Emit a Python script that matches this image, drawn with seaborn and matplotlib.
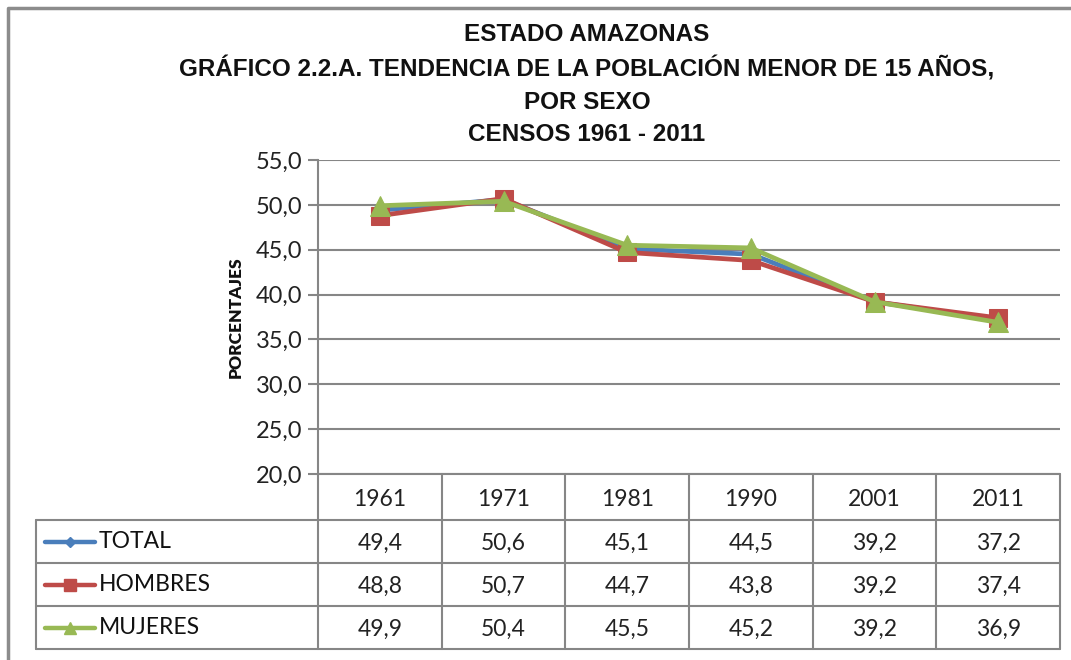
import numpy as np
import pandas as pd
import matplotlib
matplotlib.use("Agg")
import matplotlib.pyplot as plt
from matplotlib.ticker import FuncFormatter
import seaborn as sns

years = ["1961", "1971", "1981", "1990", "2001", "2011"]
series_names = ["TOTAL", "HOMBRES", "MUJERES"]
total = [49.4, 50.6, 45.1, 44.5, 39.2, 37.2]
hombres = [48.8, 50.7, 44.7, 43.8, 39.2, 37.4]
mujeres = [49.9, 50.4, 45.5, 45.2, 39.2, 36.9]

title_lines = "ESTADO AMAZONAS\nGRÁFICO 2.2.A. TENDENCIA DE LA POBLACIÓN MENOR DE 15 AÑOS,\nPOR SEXO\nCENSOS 1961 - 2011"

colors = {"TOTAL": "#4A7EBB", "HOMBRES": "#BE4B48", "MUJERES": "#98B954"}
markers = {"TOTAL": "D", "HOMBRES": "s", "MUJERES": "^"}
msizes = {"TOTAL": 9, "HOMBRES": 13.5, "MUJERES": 14.5}
grid_col = "#868686"

sns.set_theme(style="white")
plt.rcParams["font.family"] = ["Lato", "DejaVu Sans"]

df = pd.DataFrame({"year": years * 3,
                   "pos": list(range(len(years))) * 3,
                   "value": total + hombres + mujeres,
                   "serie": [s for s in series_names for _ in years]})

W, H = 1071, 660
fig = plt.figure(figsize=(W / 100, H / 100), dpi=100)

def px(x0, y0, x1, y1):
    return [x0 / W, 1 - y1 / H, (x1 - x0) / W, (y1 - y0) / H]

ax = fig.add_axes(px(318, 160, 1060, 474))
for name in series_names:
    sub = df[df["serie"] == name]
    sns.lineplot(data=sub, x="pos", y="value", ax=ax, color=colors[name],
                 marker=markers[name], markersize=msizes[name],
                 markeredgecolor=colors[name], linewidth=3.4, legend=False)

ax.set_xlim(-0.5, len(years) - 0.5)
ax.set_ylim(20, 55)
ax.set_yticks(np.arange(20, 56, 5))
ax.yaxis.set_major_formatter(FuncFormatter(lambda v, p: f"{v:.1f}".replace(".", ",")))
ax.set_xticks([])
ax.set_xlabel("")
ax.set_ylabel("PORCENTAJES", fontsize=12.5, fontweight="heavy", labelpad=9,
              color="#111111")
ax.grid(axis="y", color=grid_col, linewidth=1.5)
ax.set_axisbelow(True)
for side in ["top", "right", "bottom"]:
    ax.spines[side].set_visible(False)
ax.spines["left"].set_color(grid_col)
ax.spines["left"].set_linewidth(1.5)
ax.tick_params(axis="y", which="both", left=True, length=7, width=1.5,
               color=grid_col, labelsize=17, pad=4, labelcolor="#222222")

fig.text(587 / W, 1 - 23 / H, title_lines, ha="center", va="top",
         fontsize=17.5, fontweight="bold", linespacing=1.52,
         family=["Liberation Sans", "DejaVu Sans"], color="#111111")

# overlay for border and data table, in pixel coordinates
ov = fig.add_axes([0, 0, 1, 1], facecolor="none")
ov.set_xlim(0, W)
ov.set_ylim(H, 0)
ov.axis("off")

ov.plot([8, 8, W + 5], [H + 5, 8, 8], color="#8C8C8C", linewidth=2.5)

# column edges from the main axis' own scale
to_px = lambda xv: ax.transData.transform((xv, 20))[0]
col_edges = [to_px(i - 0.5) for i in range(len(years) + 1)]
row_edges = [474, 520, 563, 606, 649]
tab_left = 36
lw = 1.5

# header row (years)
ov.plot([col_edges[0], col_edges[-1]], [row_edges[0]] * 2, color=grid_col, lw=lw)
for xe in col_edges:
    ov.plot([xe, xe], [row_edges[0], row_edges[-1]], color=grid_col, lw=lw)
for i, yr in enumerate(years):
    ov.text((col_edges[i] + col_edges[i + 1]) / 2, (row_edges[0] + row_edges[1]) / 2 + 2,
            yr, ha="center", va="center", fontsize=16.5, color="#222222")

# data rows
for ye in row_edges[1:]:
    ov.plot([tab_left, col_edges[-1]], [ye, ye], color=grid_col, lw=lw)
ov.plot([tab_left, tab_left], [row_edges[1], row_edges[-1]], color=grid_col, lw=lw)

values = {"TOTAL": total, "HOMBRES": hombres, "MUJERES": mujeres}
for r, name in enumerate(series_names):
    yc = (row_edges[r + 1] + row_edges[r + 2]) / 2
    ov.plot([45, 95], [yc, yc], color=colors[name], lw=3.2)
    ov.plot([70], [yc], marker=markers[name], color=colors[name],
            markersize=msizes[name] * 0.6)
    ov.text(99, yc, name, ha="left", va="center", fontsize=16.5, color="#111111")
    for i, v in enumerate(values[name]):
        ov.text((col_edges[i] + col_edges[i + 1]) / 2, yc + 2,
                f"{v:.1f}".replace(".", ","), ha="center", va="center",
                fontsize=16.5, color="#222222")

fig.savefig("out.png", dpi=100, facecolor="white")
